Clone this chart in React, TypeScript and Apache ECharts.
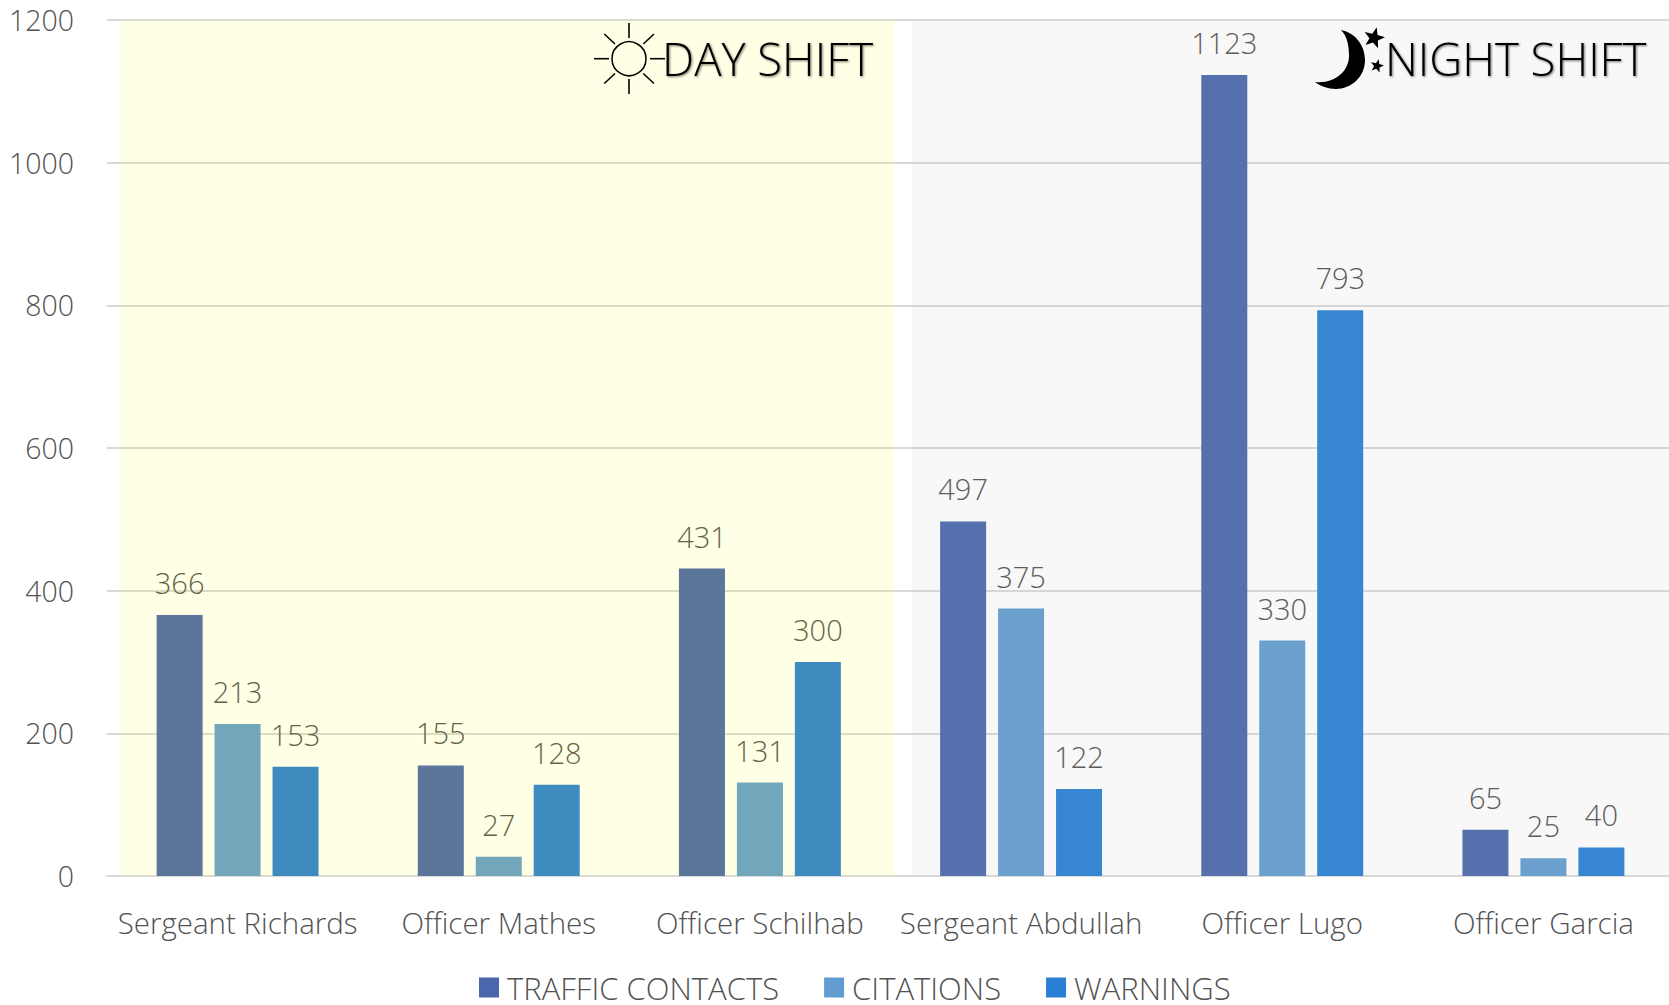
import React, { useEffect, useRef } from "react";
import * as echarts from "echarts";

const categories = ["Sergeant Richards", "Officer Mathes", "Officer Schilhab", "Sergeant Abdullah", "Officer Lugo", "Officer Garcia"];
const trafficContacts = [366, 155, 431, 497, 1123, 65];
const citations = [213, 27, 131, 375, 330, 25];
const warnings = [153, 128, 300, 122, 793, 40];
const seriesNames = ["TRAFFIC CONTACTS", "CITATIONS", "WARNINGS"];
const seriesColors = ["#4A66AC", "#629DD1", "#297FD5"];
const yTicks = { min: 0, max: 1200, interval: 200 };

const FONT = "'Open Sans'";
const TEXT = "#525252";
const W = 1669;
const H = 1005;
const CHART_W = 1674;

echarts.graphic.registerShape(
  "moon",
  (echarts.graphic as any).extendPath(
    "M1341 30 C1356 33 1365 46 1365 60 C1365 77 1351 89 1336 89 C1328 89 1320 86 1315 82 C1335 84 1349 71 1349 56 C1349 45 1347 36 1341 30 Z",
    {}
  )
);

function star(cx: number, cy: number, R: number, rot: number) {
  const pts: number[][] = [];
  for (let i = 0; i < 10; i++) {
    const r = i % 2 ? R * 0.42 : R;
    const a = rot + (i * Math.PI) / 5 - Math.PI / 2;
    pts.push([cx + r * Math.cos(a), cy + r * Math.sin(a)]);
  }
  return { type: "polygon", z: 60, shape: { points: pts }, style: { fill: "#000" } };
}

function ray(x1: number, y1: number, x2: number, y2: number) {
  return { type: "line", z: 60, shape: { x1, y1, x2, y2 }, style: { stroke: "#000", lineWidth: 1.6 } };
}

function title(text: string, x: number) {
  return {
    type: "text",
    z: 60,
    x,
    y: 58,
    style: {
      text,
      fill: "#000",
      font: `300 45.5px ${FONT}`,
      textAlign: "left",
      textVerticalAlign: "middle",
      textShadowColor: "rgba(0,0,0,0.55)",
      textShadowBlur: 2,
      textShadowOffsetX: 1,
      textShadowOffsetY: 1,
    },
  };
}

export default function App() {
  const ref = useRef<HTMLDivElement>(null);
  useEffect(() => {
    const chart = echarts.init(ref.current!, undefined, { renderer: "svg" });
    const makeSeries = (name: string, data: number[], color: string) => ({
      name,
      type: "bar",
      data,
      barWidth: 46,
      barGap: "26%",
      itemStyle: { color },
      label: {
        show: true,
        position: "top",
        distance: 18,
        color: TEXT,
        fontFamily: FONT,
        fontWeight: 300,
        fontSize: 29,
      },
    });
    chart.setOption({
      animation: false,
      backgroundColor: "#fff",
      grid: { left: 107, right: 0, top: 20, height: 856, containLabel: false },
      legend: {
        show: true,
        top: 972,
        left: 479,
        padding: 0,
        itemWidth: 20,
        itemHeight: 20,
        itemGap: 45,
        itemStyle: { borderWidth: 0 },
        icon: "rect",
        data: seriesNames,
        textStyle: { color: TEXT, fontFamily: FONT, fontWeight: 300, fontSize: 31, lineHeight: 30, padding: [0, 0, 0, 3] },
      },
      xAxis: {
        type: "category",
        data: categories,
        axisTick: { show: false },
        axisLine: { lineStyle: { color: "#D9D9D9", width: 2 } },
        axisLabel: { interval: 0, color: TEXT, fontFamily: FONT, fontWeight: 300, fontSize: 29.5, margin: 31 },
      },
      yAxis: {
        type: "value",
        min: yTicks.min,
        max: yTicks.max,
        interval: yTicks.interval,
        axisLine: { show: false },
        axisTick: { show: false },
        splitLine: { lineStyle: { color: "#D9D9D9", width: 2 } },
        axisLabel: {
          color: TEXT,
          fontFamily: FONT,
          fontWeight: 300,
          fontSize: 28.5,
          margin: 33,
          padding: [0, 0, 7, 0],
          formatter: (v: number) => String(v),
        },
      },
      series: [
        makeSeries(seriesNames[0], trafficContacts, seriesColors[0]),
        makeSeries(seriesNames[1], citations, seriesColors[1]),
        makeSeries(seriesNames[2], warnings, seriesColors[2]),
      ],
      graphic: {
        elements: [
          { type: "rect", z: 50, shape: { x: 120, y: 20, width: 774, height: 856 }, style: { fill: "rgba(255,255,0,0.1)" } },
          { type: "rect", z: 50, shape: { x: 912, y: 20, width: CHART_W - 912, height: 856 }, style: { fill: "rgba(190,190,190,0.105)" } },
          { type: "circle", z: 60, shape: { cx: 629, cy: 58.7, r: 17 }, style: { fill: "none", stroke: "#000", lineWidth: 1.5 } },
          ray(629, 23, 629, 38),
          ray(629, 79, 629, 94),
          ray(594, 58.7, 609, 58.7),
          ray(650, 58.7, 665, 58.7),
          ray(604.3, 34, 615, 44),
          ray(654, 34, 643.3, 44),
          ray(604.3, 83.5, 615, 73.5),
          ray(654, 83.5, 643.3, 73.5),
          title("DAY SHIFT", 662),
          { type: "moon", z: 60, style: { fill: "#000" } },
          star(1374, 38, 11, 0.25),
          star(1377, 66, 7, 0.25),
          title("NIGHT SHIFT", 1385),
        ],
      },
    } as any);
    return () => chart.dispose();
  }, []);
  return (
    <div style={{ position: "fixed", left: 0, top: 0, width: W, height: H, overflow: "hidden" }}>
      <div ref={ref} style={{ width: CHART_W, height: H }} />
    </div>
  );
}
